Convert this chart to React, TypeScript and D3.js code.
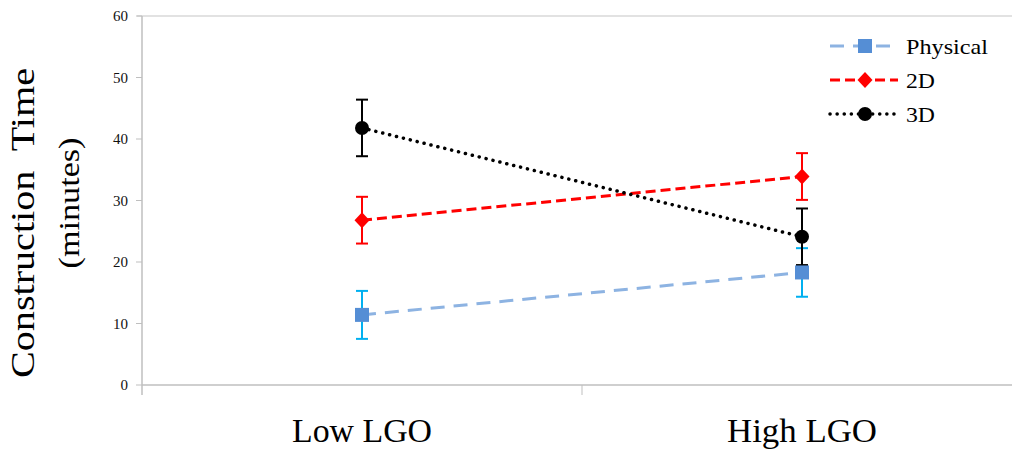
import React from "react";
import * as d3 from "d3";

const categories = ["Low LGO", "High LGO"];
const seriesNames = ["Physical", "2D", "3D"];
const physical = [11.4, 18.3];
const physicalErr = [3.9, 3.95];
const twoD = [26.8, 33.9];
const twoDErr = [3.8, 3.8];
const threeD = [41.8, 24.1];
const threeDErr = [4.6, 4.6];
const yTicks = [0, 10, 20, 30, 40, 50, 60];

const W = 1013;
const H = 451;
const FONT = "'Liberation Serif', 'Times New Roman', serif";

export default function App() {
  const left = 142;
  const right = 1012;
  const top = 16;
  const bottom = 385;
  const y = d3.scaleLinear().domain([0, 60]).range([bottom, top]);
  const x = d3.scalePoint<string>().domain(categories).range([362, 802]);

  const series = [
    { name: seriesNames[0], vals: physical, err: physicalErr, line: "#8db3e2", errColor: "#00b0f0", marker: "#558ed5", dash: "14,9", shape: "square" },
    { name: seriesNames[1], vals: twoD, err: twoDErr, line: "#ff0000", errColor: "#ff0000", marker: "#ff0000", dash: "10,5", shape: "diamond" },
    { name: seriesNames[2], vals: threeD, err: threeDErr, line: "#000000", errColor: "#000000", marker: "#000000", dash: "0.1,7", shape: "circle" },
  ];

  const lineGen = d3.line<number>().x((_, i) => x(categories[i])!).y((d) => y(d));

  const marker = (shape: string, cx: number, cy: number, color: string, key: string) => {
    if (shape === "square") return <rect key={key} x={cx - 7} y={cy - 7} width={14} height={14} fill={color} />;
    if (shape === "diamond") {
      const p = `M${cx},${cy - 8}L${cx + 7.5},${cy}L${cx},${cy + 8}L${cx - 7.5},${cy}Z`;
      return <path key={key} d={p} fill={color} />;
    }
    return <circle key={key} cx={cx} cy={cy} r={7} fill={color} />;
  };

  const legendY = [46, 80, 114];

  return (
    <svg width={W} height={H} style={{ position: "absolute", left: 0, top: 0, background: "#fff" }}>
      <line x1={137} x2={right} y1={y(60)} y2={y(60)} stroke="#d9d9d9" strokeWidth={1.5} />
      <line x1={left} x2={left} y1={top} y2={bottom + 10} stroke="#bfbfbf" strokeWidth={1.5} />
      {yTicks.map((t) => (
        <g key={t}>
          <line x1={left - 6} x2={left} y1={y(t)} y2={y(t)} stroke="#bfbfbf" strokeWidth={1} />
          <text x={128} y={y(t)} dy="0.35em" textAnchor="end" fontFamily={FONT} fontSize={15} fill="#111">
            {t}
          </text>
        </g>
      ))}
      <line x1={left} x2={right} y1={bottom} y2={bottom} stroke="#bfbfbf" strokeWidth={1.5} />
      <line x1={582} x2={582} y1={bottom} y2={bottom + 10} stroke="#bfbfbf" strokeWidth={1} />
      {categories.map((c) => (
        <text key={c} x={x(c)} y={442} textAnchor="middle" fontFamily={FONT} fontSize={33} textLength={c === "Low LGO" ? 140 : 150} lengthAdjust="spacingAndGlyphs" fill="#000">
          {c}
        </text>
      ))}
      <text transform="translate(34,223) rotate(-90)" textAnchor="middle" fontFamily={FONT} fontSize={33} textLength={310} lengthAdjust="spacingAndGlyphs" fill="#000" style={{ whiteSpace: "pre" }}>
        {"Construction  Time"}
      </text>
      <text transform="translate(79,203) rotate(-90)" textAnchor="middle" fontFamily={FONT} fontSize={30} textLength={131} lengthAdjust="spacingAndGlyphs" fill="#000">
        (minutes)
      </text>
      {series.map((s) => (
        <g key={s.name}>
          {s.vals.map((v, i) => {
            const cx = x(categories[i])!;
            return (
              <g key={i} stroke={s.errColor} strokeWidth={2}>
                <line x1={cx} x2={cx} y1={y(v - s.err[i])} y2={y(v + s.err[i])} />
                <line x1={cx - 6} x2={cx + 6} y1={y(v - s.err[i])} y2={y(v - s.err[i])} />
                <line x1={cx - 6} x2={cx + 6} y1={y(v + s.err[i])} y2={y(v + s.err[i])} />
              </g>
            );
          })}
          <path d={lineGen(s.vals)!} fill="none" stroke={s.line} strokeWidth={s.shape === "circle" ? 3.5 : 3} strokeDasharray={s.dash} strokeLinecap={s.shape === "circle" ? "round" : "butt"} />
        </g>
      ))}
      {series.map((s) => s.vals.map((v, i) => marker(s.shape, x(categories[i])!, y(v), s.marker, s.name + i)))}
      {series.map((s, i) => (
        <g key={s.name}>
          <line x1={830} x2={898} y1={legendY[i]} y2={legendY[i]} stroke={s.line} strokeWidth={s.shape === "circle" ? 3.5 : 3} strokeDasharray={s.dash} strokeLinecap={s.shape === "circle" ? "round" : "butt"} />
          {marker(s.shape, 865, legendY[i], s.marker, "lg" + i)}
          <text x={906} y={legendY[i]} dy="0.35em" fontFamily={FONT} fontSize={22} textLength={i === 0 ? 82 : 29} lengthAdjust="spacingAndGlyphs" fill="#000">
            {s.name}
          </text>
        </g>
      ))}
    </svg>
  );
}
